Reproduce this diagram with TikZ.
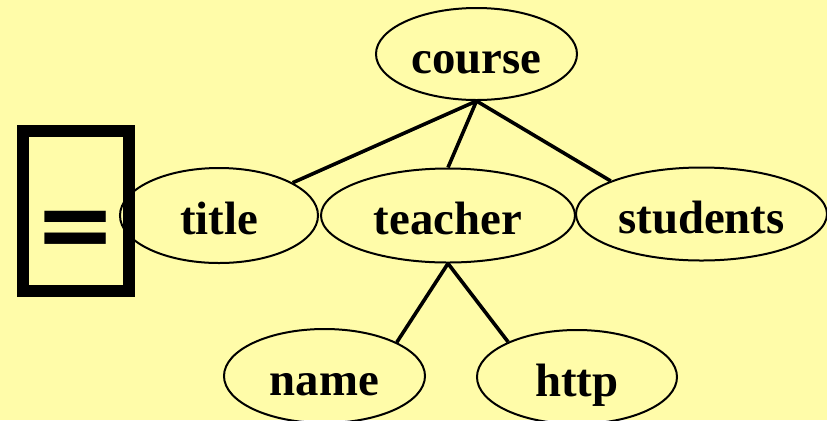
\documentclass[tikz,border=0pt]{standalone}
\usepackage{fontspec}
\setmainfont{Liberation Serif}
\newfontfamily\eqfont{DejaVu Sans}
\definecolor{paper}{HTML}{FFFCA9}
\usetikzlibrary{shapes.geometric}
\tikzset{
    attr/.style={ellipse, draw, line width=1pt, inner sep=0pt,
        font=\bfseries\fontsize{23.4pt}{28pt}\selectfont,
        text height=19pt, text depth=0pt},
    link/.style={line width=1.8pt}
}
\begin{document}
\begin{tikzpicture}[x=0.5pt, y=-0.5pt]
        \fill[paper] (0,0) rectangle (827,420);
        \useasboundingbox (0,0) rectangle (827,420);
        \node[attr, minimum width=100.5pt, minimum height=46pt] (course) at (476.5,54) {course};
        \node[attr, minimum width=99pt, minimum height=47.5pt] (title) at (219,215.5) {title};
        \node[attr, minimum width=127pt, minimum height=47pt] (teacher) at (448,215.5) {teacher};
        \node[attr, minimum width=125.5pt, minimum height=46.5pt] (students) at (701.5,214) {students};
        \node[attr, minimum width=100.5pt, minimum height=47pt] (name) at (324.5,376) {name};
        \node[attr, minimum width=100pt, minimum height=47pt] (http) at (577,377) {http};
        \draw[link] (course.south) -- (title.24);
        \draw[link] (course.south) -- (teacher.north);
        \draw[link] (course.south) -- (students.160);
        \draw[link] (teacher.south) -- (name.25);
        \draw[link] (teacher.south) -- (http.153);
        \node[draw, line width=6pt, minimum width=53pt, minimum height=80pt, inner sep=0pt] (glyphbox) at (76,211) {};
        \node[font=\eqfont\bfseries\fontsize{49pt}{49pt}\selectfont, inner sep=0pt] (eq) at (75.5,235) {=};
    \end{tikzpicture}
\end{document}
